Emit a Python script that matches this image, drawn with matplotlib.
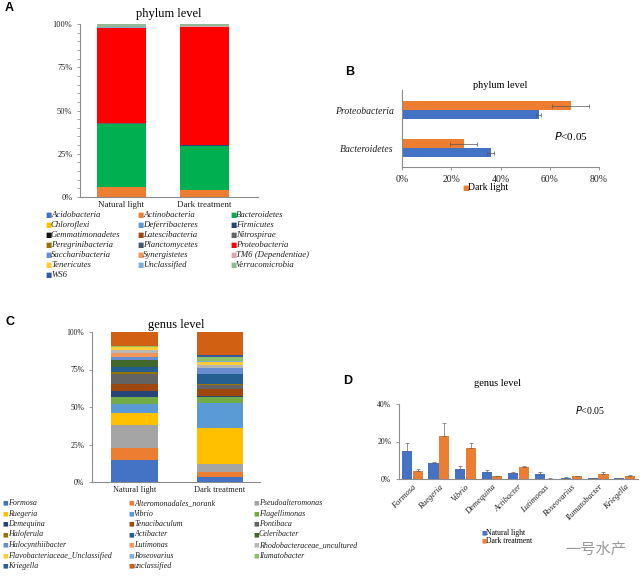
import matplotlib
matplotlib.use("Agg")
import matplotlib.pyplot as plt
from matplotlib.ticker import FixedLocator, MultipleLocator
import numpy as np

plt.rcParams['font.family'] = ['Liberation Serif', 'DejaVu Serif']

W, H = 640, 577

# ---- panel A / B data (phylum level) ----
samples = ["Natural light", "Dark treatment"]
phyla = ["Acidobacteria", "Actinobacteria", "Bacteroidetes", "Chloroflexi",
         "Deferribacteres", "Firmicutes", "Gemmatimonadetes", "Latescibacteria",
         "Nitrospirae", "Peregrinibacteria", "Planctomycetes", "Proteobacteria",
         "Saccharibacteria", "Synergistetes", "TM6 (Dependentiae)", "Tenericutes",
         "Unclassified", "Verrucomicrobia", "WS6"]
phylum_colors = ["#4472C4", "#ED7D31", "#00B050", "#FFC000", "#5B9BD5", "#264478",
                 "#111111", "#9E480E", "#636363", "#997300", "#43586B", "#FF0000",
                 "#698ED0", "#F1975A", "#D8A8B0", "#FFCD33", "#7CAFDD", "#93B893",
                 "#335AA1"]
phylum_natural = [0.1, 5.5, 36.4, 0.1, 0.1, 0.1, 0.1, 0.05, 0.05, 0.05, 0.2, 54.75,
                  0.1, 0.05, 0.05, 0.1, 0.3, 1.8, 0.1]
phylum_dark = [0.1, 4.0, 25.4, 0.1, 0.1, 0.1, 0.1, 0.05, 0.05, 0.05, 0.2, 68.15,
               0.1, 0.05, 0.05, 0.1, 0.2, 1.0, 0.1]

b_cats = ["Bacteroidetes", "Proteobacteria"]
b_dark = [25.0, 68.5]
b_dark_err = [5.5, 7.5]
b_natural = [36.0, 55.5]
b_natural_err = [1.5, 1.0]

# ---- panel C / D data (genus level) ----
genera = ["Formosa", "Alteromonadales_norank", "Pseudoalteromonas", "Ruegeria",
          "Vibrio", "Flagellimonas", "Demequina", "Tenacibaculum", "Pontibaca",
          "Haloferula", "Actibacter", "Celeribacter", "Halocynthiibacter",
          "Lutimonas", "Rhodobacteraceae_uncultured", "Flavobacteriaceae_Unclassified",
          "Roseovarius", "Ilumatobacter", "Kriegella", "unclassified"]
genus_colors = ["#4472C4", "#ED7D31", "#A5A5A5", "#FFC000", "#5B9BD5", "#70AD47",
                "#264478", "#9E480E", "#636363", "#997300", "#255E91", "#43682B",
                "#698ED0", "#F1975A", "#B7B7B7", "#FFCD33", "#7CAFDD", "#8CC168",
                "#335AA1", "#D26012"]
genus_natural = [14.7, 8.0, 15.1, 8.4, 5.8, 5.0, 3.5, 5.0, 6.5, 1.0, 3.8, 4.5,
                 2.0, 2.5, 2.5, 1.5, 0.5, 0.3, 0.3, 9.1]
genus_dark = [3.6, 2.9, 5.6, 23.8, 16.5, 4.0, 1.2, 4.4, 2.9, 0.4, 6.5, 0.5,
              3.5, 0.4, 2.0, 1.5, 1.2, 2.4, 1.3, 15.4]

d_cats = ["Formosa", "Ruegeria", "Vibrio", "Demequina", "Actibacter", "Lutimonas",
          "Roseovarius", "Ilumatobacter", "Kriegella"]
d_natural = [15.2, 8.7, 5.2, 3.6, 3.2, 2.7, 0.7, 0.35, 0.4]
d_natural_err = [4.0, 0.5, 1.8, 1.0, 0.3, 1.0, 0.2, 0.1, 0.1]
d_dark = [4.5, 23.2, 16.6, 1.4, 6.4, 0.2, 1.4, 2.5, 1.8]
d_dark_err = [0.8, 6.8, 2.7, 0.3, 0.3, 0.1, 0.3, 1.1, 0.4]

BLUE = "#4472C4"
ORANGE = "#ED7D31"
SPINE = "#8c8c8c"

fig = plt.figure(figsize=(W / 100, H / 100), dpi=100)


def px_axes(x0, y0, x1, y1):
    return fig.add_axes([x0 / W, 1 - y1 / H, (x1 - x0) / W, (y1 - y0) / H])


def style(ax):
    for s in ["top", "right"]:
        ax.spines[s].set_visible(False)
    for s in ["left", "bottom"]:
        ax.spines[s].set_color(SPINE)
        ax.spines[s].set_linewidth(0.8)
    ax.tick_params(colors=SPINE, labelcolor="#222222", labelsize=6, length=2, width=0.6)


def legend_grid(names, colors, xs, y0, dy, ncol, size):
    for i, (n, c) in enumerate(zip(names, colors)):
        col, row = i % ncol, i // ncol
        x, y = xs[col], y0 + row * dy
        fig.text(x / W, 1 - y / H, "■", color=c, fontsize=size - 1.5,
                 va="center", ha="left", family="DejaVu Sans")
        fig.text((x + 6) / W, 1 - y / H, n, fontsize=size, style="italic",
                 va="center", ha="left", color="#222222")


def pct(ax, axis="y"):
    fmt = lambda v, p: "%d%%" % v
    if axis == "y":
        ax.yaxis.set_major_formatter(plt.FuncFormatter(fmt))
    else:
        ax.xaxis.set_major_formatter(plt.FuncFormatter(fmt))


# ---------------- A ----------------
axA = px_axes(80, 24, 258, 197)
style(axA)
xpos = np.arange(len(samples))
bottoms = np.zeros(2)
for name, col, a, b in zip(phyla, phylum_colors, phylum_natural, phylum_dark):
    vals = np.array([a, b])
    axA.bar(xpos, vals, 0.59, bottom=bottoms, color=col, linewidth=0)
    bottoms += vals
axA.set_xlim(-0.494, 1.65)
axA.set_ylim(0, 100)
axA.set_yticks([0, 25, 50, 75, 100])
axA.yaxis.set_minor_locator(MultipleLocator(5))
axA.tick_params(axis="y", which="minor", length=2, colors=SPINE, width=0.5)
pct(axA)
axA.set_xticks(xpos)
axA.set_xticklabels(samples, fontsize=6.5)
axA.tick_params(axis="x", length=0, pad=3)
axA.set_title("phylum level", fontsize=9, pad=5)
fig.text(5 / W, 1 - 8 / H, "A", fontsize=9, fontweight="bold", family="Liberation Sans", va="center")
legend_grid(phyla, phylum_colors, [45, 137, 230], 215, 10, 3, 6.3)

# ---------------- B ----------------
axB = px_axes(402, 90, 599, 167)
style(axB)
yb = np.arange(len(b_cats))
hb = 0.237
axB.barh(yb + hb / 2, b_dark, hb, xerr=b_dark_err, color=ORANGE, linewidth=0,
         error_kw=dict(ecolor="#555555", elinewidth=0.5, capsize=1.5, capthick=0.5),
         label="Dark light")
axB.barh(yb - hb / 2, b_natural, hb, xerr=b_natural_err, color=BLUE, linewidth=0,
         error_kw=dict(ecolor="#555555", elinewidth=0.5, capsize=1.5, capthick=0.5))
axB.set_xlim(0, 80)
axB.set_ylim(-0.5, 1.53)
axB.set_xticks([0, 20, 40, 60, 80])
pct(axB, "x")
axB.set_yticks(yb)
axB.set_yticklabels(b_cats, style="italic", fontsize=7)
axB.tick_params(axis="y", length=0, pad=6)
axB.tick_params(axis="x", labelsize=7, length=2)
axB.set_title("phylum level", fontsize=7.5, pad=1)
axB.text(0.86, 0.40, "$P$<0.05", transform=axB.transAxes, fontsize=8,
         ha="center", va="center")
fig.text(345 / W, 1 - 72 / H, "B", fontsize=9, fontweight="bold", family="Liberation Sans", va="center")
fig.text(462 / W, 1 - 188 / H, "■", color=ORANGE, fontsize=5, va="center", family="DejaVu Sans")
fig.text(468 / W, 1 - 188 / H, "Dark light", fontsize=7, va="center")

# ---------------- C ----------------
axC = px_axes(92, 332, 260, 482)
style(axC)
bottoms = np.zeros(2)
for name, col, a, b in zip(genera, genus_colors, genus_natural, genus_dark):
    vals = np.array([a, b])
    axC.bar(xpos, vals, 0.54, bottom=bottoms, color=col, linewidth=0)
    bottoms += vals
axC.set_xlim(-0.497, 1.47)
axC.set_ylim(0, 100)
axC.set_yticks([0, 25, 50, 75, 100])
pct(axC)
axC.tick_params(axis="y", labelsize=5.5)
axC.set_xticks(xpos)
axC.set_xticklabels(samples, fontsize=6)
axC.tick_params(axis="x", length=0, pad=3)
axC.set_title("genus level", fontsize=9, pad=3)
fig.text(5 / W, 1 - 322 / H, "C", fontsize=9, fontweight="bold", family="Liberation Sans", va="center")
legend_grid(genera, genus_colors, [2, 128, 253], 503, 10.5, 3, 5.8)

# ---------------- D ----------------
axD = px_axes(399, 404, 638, 479)
style(axD)
xd = np.arange(len(d_cats))
wd = 0.38
ekw = dict(ecolor="#666666", elinewidth=0.5, capsize=1.5, capthick=0.5)
axD.bar(xd - wd / 2 - 0.01, d_natural, wd, yerr=[np.zeros(len(d_cats)), d_natural_err],
        color=BLUE, linewidth=0, error_kw=ekw)
axD.bar(xd + wd / 2 + 0.01, d_dark, wd, yerr=[np.zeros(len(d_cats)), d_dark_err],
        color=ORANGE, linewidth=0, error_kw=ekw)
axD.set_xlim(-0.5, 8.5)
axD.set_ylim(0, 40)
axD.set_yticks([0, 20, 40])
pct(axD)
axD.tick_params(axis="y", labelsize=5.5)
axD.set_xticks(xd)
axD.set_xticklabels(d_cats, style="italic", fontsize=6, rotation=45,
                    ha="right", rotation_mode="anchor")
axD.tick_params(axis="x", length=0, pad=3)
axD.text(0.80, 0.92, "$P$<0.05", transform=axD.transAxes, fontsize=7,
         ha="center", va="center")
fig.text(497 / W, 1 - 383 / H, "genus level", fontsize=7.5, ha="center", va="center")
fig.text(343 / W, 1 - 381 / H, "D", fontsize=9, fontweight="bold", family="Liberation Sans", va="center")
fig.text(481 / W, 1 - 533 / H, "■", color=BLUE, fontsize=4, va="center", family="DejaVu Sans")
fig.text(486 / W, 1 - 533 / H, "Natural light", fontsize=5.5, va="center")
fig.text(481 / W, 1 - 541 / H, "■", color=ORANGE, fontsize=4, va="center", family="DejaVu Sans")
fig.text(486 / W, 1 - 541 / H, "Dark treatment", fontsize=5.5, va="center")

# watermark
fig.text(596 / W, 1 - 549 / H, "一号水产", fontsize=11, color="#9a9a9a",
         ha="center", va="center", family=["Noto Sans CJK SC", "DejaVu Sans"])

fig.savefig("out.png", dpi=100)
